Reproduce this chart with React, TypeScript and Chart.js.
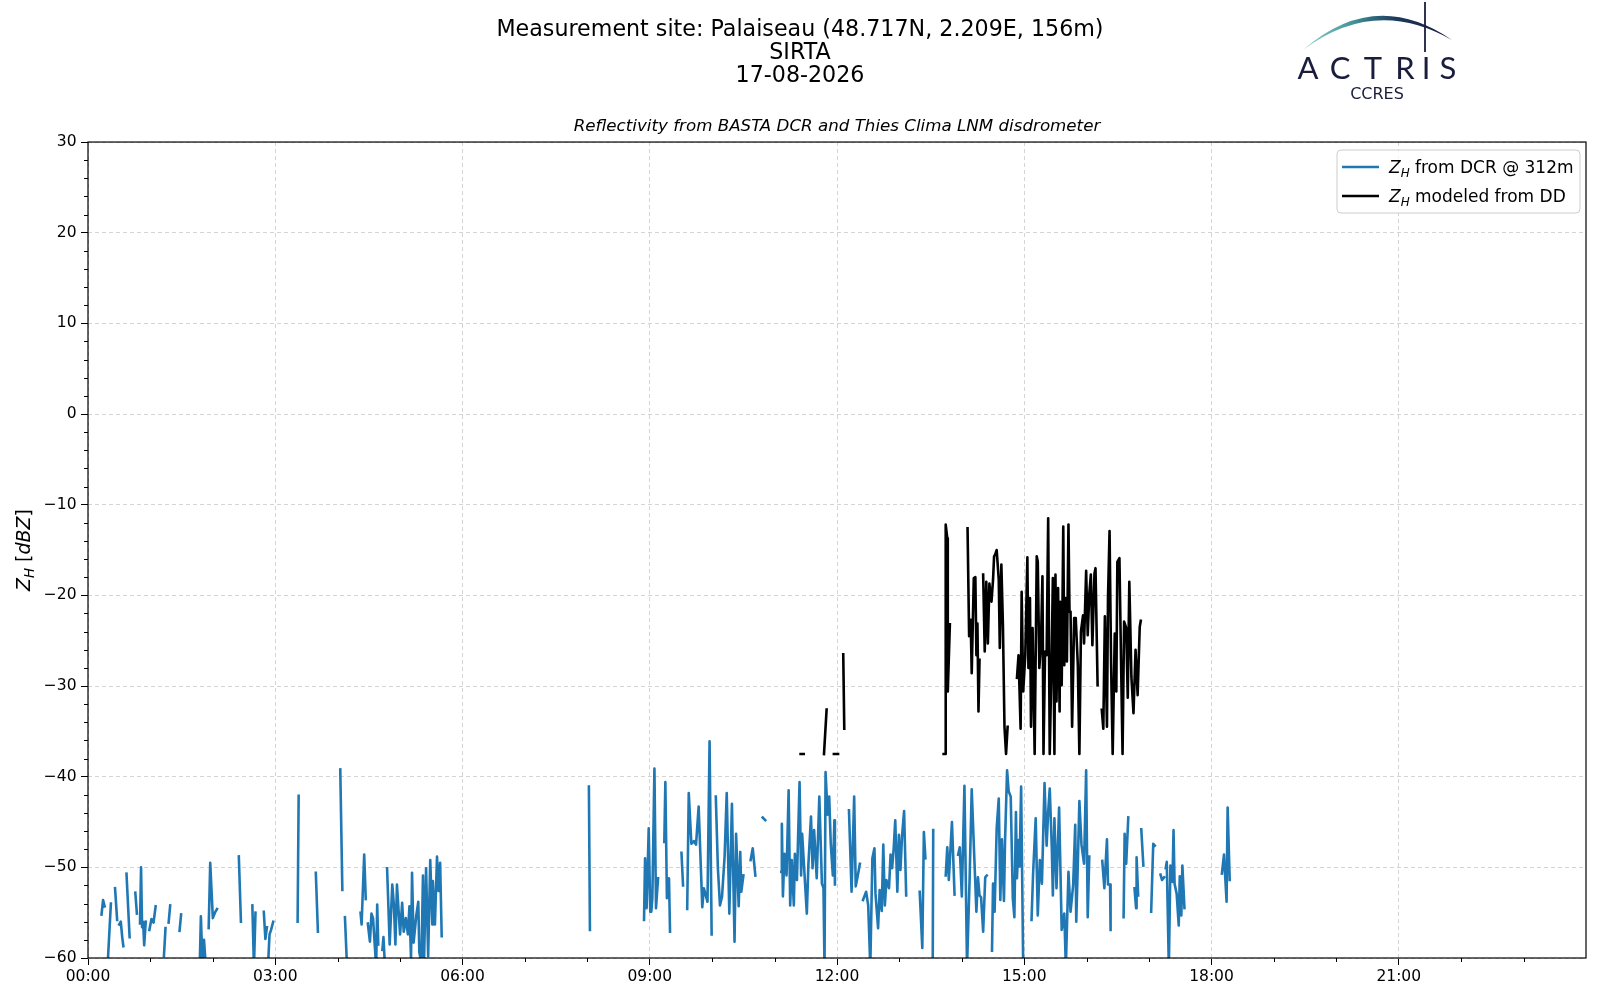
import React, { useEffect, useRef } from 'react';
import { Chart, registerables } from 'chart.js';
Chart.register(...registerables);

const FONT = '"DejaVu Sans", sans-serif';

const titleLines = ['Measurement site: Palaiseau (48.717N, 2.209E, 156m)', 'SIRTA', '17-08-2026'];
const subtitleText = 'Reflectivity from BASTA DCR and Thies Clima LNM disdrometer';

// x axis in minutes after 00:00, y axis in dBZ
const xTickMinutes = [0, 180, 360, 540, 720, 900, 1080, 1260];
const yTickValues = [-60, -50, -40, -30, -20, -10, 0, 10, 20, 30];

// Z_H from DCR @ 312m (null = no data)
const dcrMinutes = [
  13, 14.5, 16, 17, 19, 22, 24, 26, 28, 29, 30, 31.5, 33, 34, 35, 37, 40, 42, 45.5, 47, 48,
  50, 51, 52, 53, 54, 55.5, 57, 59, 61, 63, 65, 68, 73, 74.5, 76, 77.5, 79, 82, 88, 89.5, 95,
  107.5, 108.5, 110, 111.5, 113, 114, 116, 117.5, 120, 122, 124, 130, 145, 147, 150,
  158, 159.5, 161, 165, 169, 170.5, 172, 172.5, 173, 174.5, 176, 178, 185,
  201.5, 202.5, 210, 219, 221, 230, 242.5, 244.5, 246, 247, 249, 255,
  262, 263, 265.5, 267, 268, 269, 271, 272.5, 274, 277, 278, 279, 281, 283, 284, 285.5, 286.5,
  287.5, 288.5, 290, 292.5, 294, 295.5, 297, 298.5, 300, 302, 303.5, 305.5, 307.5, 309, 310.5,
  311.5, 313, 315.5, 317.5, 318.5, 320.5, 322, 323, 325, 327, 329, 331, 331.5, 333.5, 335.5,
  337, 338.5, 340, 400, 481.5, 482.5, 500,
  534.5, 535.5, 537, 539, 540.5, 541.5, 542.5, 544.5, 546, 548, 551, 554, 555, 556.5, 558.5,
  559.5, 565, 570.5, 572, 574, 576, 577.5, 580, 582.5, 584.5, 587, 590.5, 592, 595.5, 597.5,
  599.5, 601.5, 603.5, 605.5, 607.5, 609.5, 612, 614, 616.5, 619, 621.5, 623, 625.5, 627, 628,
  630, 633, 637, 639, 641.5, 645, 648.5, 651, 655,
  666.5, 667, 668, 669.5, 671.5, 673.5, 675, 676.5, 678.5, 679.5, 681.5, 684, 685.5, 686.5,
  691, 692.5, 695, 696.5, 698, 700.5, 703, 705.5, 707, 708, 709, 711, 712.5, 714, 716, 717.5,
  718, 725, 731.5, 734, 736.5, 738, 740, 742, 743.5,
  745, 748, 750, 752, 754, 756, 757, 759.5, 761, 763, 764.5, 766, 767.5, 770, 771.5, 773,
  774.5, 776, 778, 779.5, 781, 782.5, 784.5, 786.5, 793, 799.5, 802, 803.5, 805, 808, 812,
  812.5, 818, 824.5, 826, 827.5, 828.5, 830.5, 833, 834.5,
  836.5, 838, 840, 842.5, 845, 847.5, 849.5, 851.5, 854, 855.5, 857, 858.5, 860.5, 862.5, 864,
  866.5, 869, 870, 871.5, 873.5, 875.5, 877, 878.5, 880.5, 881.5, 883.5, 885, 887, 889, 890.5,
  892, 893, 894.5, 895.5, 897, 899, 903,
  907, 908.5, 911, 913, 915, 917, 919.5, 921.5, 923, 924.5, 926.5, 927.5, 929, 931, 933.5,
  936, 938.5, 940, 942.5, 944.5, 947, 949, 950, 951.5, 953, 955, 957.5, 959.5, 961, 962.5, 969,
  975, 977, 979.5, 980.5, 982.5, 983, 989, 995.5, 996.5, 998, 1000, 1003,
  1006, 1007.5, 1008, 1009.5, 1011, 1012.5, 1014.5, 1018, 1022, 1024, 1025.5, 1028,
  1031, 1032.5, 1034.5, 1035, 1036, 1037, 1039, 1040.5, 1042.5, 1043.5, 1044.5, 1046.5,
  1048.5, 1049.5, 1051, 1052, 1054, 1070, 1090, 1092, 1094.5, 1095.5, 1097.5,
];
const dcrZh = [
  -55.2, -53.6, -54.3, null, -60.5, -54.0, null, -52.3, -55.8, null, -56.3, -56.0, -57.8, -58.7, null, -50.7, -57.7, null, -52.8, -55.1, null,
  -56.2, -50.0, -56.6, -56.0, -58.6, -56.0, null, -56.9, -55.7, -56.1, -54.3, null, -59.8, -56.7, null, -56.1, -54.2, null, -57.0, -55.2, null,
  -60.5, -55.4, -60.5, -58.0, -60.5, null, -56.7, -49.5, -55.6, -55.0, -54.6, null, -48.8, -56.0, null,
  -54.2, -61, -55.0, null, -54.9, -57.9, -56.6, null, -61, -57.4, -56.9, -56.0, null,
  -56.0, -42.1, null, -50.6, -57.1, null, -39.2, -52.5, null, -55.5, -61, null,
  -55.0, -56.3, -48.6, -53.5, null, -56.2, -58.2, -55.1, -55.6, -61, -54.1, -58.5, null, -59.1, -57.7, -61, null,
  -50.1, -53.4, -58.5, -51.9, -54.1, -58.5, -51.9, -54.7, -57.4, -53.9, -57.1, -55.6, -57.4, -54.3, -60.0,
  -50.6, -58.3, -55.4, -53.8, -59.4, -60.5, -50.9, -60.5, -50.1, -59.8, -49.2, -56.3, -51.5, -56.3, -48.8,
  -52.6, -49.5, -57.6, null, -41.1, -56.9, null,
  -55.8, -49.0, -54.5, -45.7, -54.9, -54.9, -53.4, -39.1, -54.5, -51.2, null, -47.2, -40.6, -53.4, -51.2,
  -57.1, null, -48.4, -52.0, null, -54.6, -41.8, -47.4, -47.1, -47.5, -43.3, -54.4, -52.3, -53.8, -36.1,
  -57.4, null, -42.2, -50.1, -54.2, -53.2, -48.7, -41.8, -55.1, -43.0, -58.2, -46.3, -54.3, -48.3, -52.7,
  -50.9, null, -49.2, -47.9, -50.9, null, -44.5, -44.8, null,
  -50.5, -45.2, -53.2, -48.5, -50.9, -41.5, -54.2, -49.2, -54.2, -48.5, -51.4, -40.6, -50.9, -46.3,
  -55.1, -49.7, -44.4, -50.1, -45.9, -51.2, -42.2, -51.8, -52.3, -61, -39.5, -44.2, -42.2, -47.4, -50.9, -44.8,
  -51.9, null, -43.7, -52.7, -42.2, -52.1, -50.9, -49.6, null,
  -53.6, -52.7, -54.2, -61, -49.0, -47.9, -52.9, -56.7, -52.5, -54.8, -47.5, -54.2, -51.4, -52.3, -48.6, -50.1,
  -47.9, -44.8, -52.7, -46.4, -50.3, -46.6, -43.8, -53.1, null, -52.7, -58.9, -46.1, -49.0, null, -61,
  -45.9, null, -50.9, -47.8, -51.4, -49.2, -45.0, -53.0, null,
  -48.6, -47.8, -53.2, -41.0, -61, -51.2, -41.4, -47.5, -54.9, -51.1, -53.1, -53.3, -57.1, -51.1, -50.9,
  null, -59.2, -51.8, -54.9, -45.7, -42.4, -53.6, -46.9, -53.7, -47.2, -39.3, -41.6, -42.2, -53.4, -55.5,
  -43.9, -51.2, -47.0, -49.9, -41.1, -61, null,
  -55.8, -50.7, -44.6, -55.3, -49.2, -51.8, -40.7, -47.6, -43.9, -41.3, -47.9, -53.1, -44.6, -52.3, -43.4,
  -56.9, -55.1, -61, -50.5, -54.9, -52.0, -45.3, -56.0, -49.6, -42.7, -47.5, -49.6, -39.3, -55.5, -48.8, null,
  -49.3, -52.3, -46.9, -51.9, -51.9, -56.9, null, -55.5, -46.3, -49.6, -44.5, null,
  -52.3, -54.5, -48.9, -53.1, null, -45.8, -49.8, null, -54.9, -47.4, -47.6, null,
  -50.8, -51.4, -51.1, null, -50.1, -49.4, -61, -49.8, -51.6, -45.9, -51.8, -52.9,
  -56.4, -51.0, -55.3, -49.8, -54.5, null, -50.7, -48.6, -53.8, -43.4, -51.4,
];

// Z_H modeled from disdrometer (DD) drop size distribution
const ddMinutes = [
  685, 688, 690, 707.5, 710, 712, 717, 721, 723, 726, 727, 730,
  822.5, 824, 824.5, 826, 826.5, 828.5, 835,
  845.5, 847, 848.5, 849.5, 851.5, 853, 854, 855, 856, 857, 858.5,
  860.5, 862, 863.5, 865, 866.5, 868.5, 870, 871, 872, 873.5, 875.5, 876.5, 878, 879.5, 881, 882.5, 884, 888,
  893, 894.5, 896.5, 897.5, 899, 901, 903, 904, 905.5, 906.5, 908, 910, 912, 913, 914.5, 916, 917.5,
  918.5, 920, 921.5, 923, 924.5, 926.5, 927.5, 929, 930, 931, 932.5, 934, 934.5, 936, 937.5, 938.5,
  940, 941, 942.5, 943.5, 944.5, 946, 948, 949.5, 951.5, 953, 954.5, 956.5, 957.5, 959.5, 961, 962.5,
  964, 965.5, 967.5, 968.5, 970.5, 972,
  974.5, 976, 977.5, 979.5, 980.5, 982, 983.5, 985, 987, 988.5, 989.5, 991.5, 993, 994.5, 996, 998,
  999.5, 1001, 1003, 1005, 1007, 1009, 1011, 1012,
];
const ddZh = [
  -37.5, -37.5, null, -37.5, -32.6, null, -37.5, -37.5, null, -26.5, -34.7, null,
  -37.5, -37.5, -12.2, -13.7, -30.6, -23.2, null,
  -12.6, -24.5, -22.7, -28.6, -18.1, -18.0, -26.6, -23.1, -32.8, -27.1, null,
  -17.7, -26.2, -18.5, -25.3, -18.7, -20.7, -18.3, -15.7, -15.5, -15.0, -18.3, -25.8, -16.6, -23.3, -34.5, -37.5, -34.5, null,
  -29.1, -26.6, -34.7, -19.6, -30.6, -26.6, -15.8, -28.0, -20.3, -34.5, -23.6, -37.5, -15.7, -16.3, -28.0, -25.5, -17.9,
  -37.5, -26.2, -26.6, -11.5, -37.5, -25.8, -18.1, -37.5, -17.7, -31.7, -19.2, -32.8, -20.7, -29.9, -12.4, -27.7,
  -20.3, -27.3, -12.2, -21.8, -21.8, -34.5, -22.5, -22.5, -27.7, -37.5, -24.0, -22.2, -25.3, -17.3, -24.4, -19.9,
  -17.7, -25.5, -17.6, -17.0, -29.9, null,
  -32.6, -34.7, -22.3, -34.5, -20.3, -12.9, -27.7, -37.5, -24.2, -30.6, -16.3, -15.9, -26.9, -37.5, -22.9, -23.6,
  -31.3, -18.5, -29.0, -33.0, -26.0, -31.0, -23.5, -22.8,
];

const xMinorMinutes: number[] = [];
for (let m = 60; m < 1440; m += 60) if (m % 180 !== 0) xMinorMinutes.push(m);
const yMinorValues: number[] = [];
for (let v = -58; v < 30; v += 2) if (v % 10 !== 0) yMinorValues.push(v);

const hhmm = (m: number) => {
  const h = Math.floor(m / 60);
  const mm = Math.round(m - h * 60);
  return String(h).padStart(2, '0') + ':' + String(mm).padStart(2, '0');
};
const minusSign = (v: number) => (v < 0 ? '\u2212' + Math.abs(v) : String(v));

type Part = { t: string; it?: boolean; sub?: boolean };

const partFont = (p: Part, size: number) =>
  `${p.it ? 'italic ' : ''}${p.sub ? size * 0.7 : size}px ${FONT}`;

const richWidth = (ctx: CanvasRenderingContext2D, parts: Part[], size: number) =>
  parts.reduce((w, p) => {
    ctx.font = partFont(p, size);
    return w + ctx.measureText(p.t).width;
  }, 0);

const drawRich = (ctx: CanvasRenderingContext2D, parts: Part[], x: number, y: number, size: number) => {
  let cx = x;
  for (const p of parts) {
    ctx.font = partFont(p, size);
    ctx.fillText(p.t, cx, p.sub ? y + size * 0.22 : y);
    cx += ctx.measureText(p.t).width;
  }
};

const legendItems: { color: string; parts: Part[] }[] = [
  { color: '#1f77b4', parts: [{ t: 'Z', it: true }, { t: 'H', it: true, sub: true }, { t: ' from DCR @ 312m' }] },
  { color: '#000000', parts: [{ t: 'Z', it: true }, { t: 'H', it: true, sub: true }, { t: ' modeled from DD' }] },
];
const yLabelParts: Part[] = [{ t: 'Z', it: true }, { t: 'H', it: true, sub: true }, { t: ' [' }, { t: 'dBZ', it: true }, { t: ']' }];

const decorations = {
  id: 'decorations',
  afterDatasetsDraw(chart: Chart) {
    const { ctx, chartArea: a, scales } = chart;
    ctx.save();

    // axes frame
    ctx.strokeStyle = '#000';
    ctx.lineWidth = 1.2;
    ctx.setLineDash([]);
    ctx.strokeRect(a.left, a.top, a.right - a.left, a.bottom - a.top);

    // minor ticks
    ctx.lineWidth = 1;
    ctx.beginPath();
    for (const m of xMinorMinutes) {
      const x = Math.round(scales.x.getPixelForValue(m)) + 0.5;
      ctx.moveTo(x, a.bottom);
      ctx.lineTo(x, a.bottom + 4);
    }
    for (const v of yMinorValues) {
      const y = Math.round(scales.y.getPixelForValue(v)) + 0.5;
      ctx.moveTo(a.left, y);
      ctx.lineTo(a.left - 4, y);
    }
    ctx.stroke();

    // legend
    const lx = a.right - 249;
    const ly = a.top + 8;
    const lw = 243;
    const lh = 63;
    ctx.beginPath();
    ctx.roundRect(lx, ly, lw, lh, 4);
    ctx.fillStyle = 'rgba(255,255,255,0.8)';
    ctx.fill();
    ctx.strokeStyle = '#cccccc';
    ctx.lineWidth = 1;
    ctx.stroke();
    legendItems.forEach((item, i) => {
      const cy = ly + 17 + i * 29;
      ctx.strokeStyle = item.color;
      ctx.lineWidth = 2.6;
      ctx.beginPath();
      ctx.moveTo(lx + 5, cy);
      ctx.lineTo(lx + 42, cy);
      ctx.stroke();
      ctx.fillStyle = '#000';
      ctx.textBaseline = 'alphabetic';
      drawRich(ctx, item.parts, lx + 52, cy + 6, 17);
    });

    // y axis label
    ctx.save();
    ctx.translate(24, (a.top + a.bottom) / 2);
    ctx.rotate(-Math.PI / 2);
    ctx.fillStyle = '#000';
    ctx.textBaseline = 'alphabetic';
    const w = richWidth(ctx, yLabelParts, 19);
    drawRich(ctx, yLabelParts, -w / 2, 6, 19);
    ctx.restore();

    // ACTRIS logo
    const grad = ctx.createLinearGradient(1303, 0, 1452, 0);
    grad.addColorStop(0, '#93d3cb');
    grad.addColorStop(0.35, '#3f8f96');
    grad.addColorStop(0.62, '#1d3a5c');
    grad.addColorStop(1, '#15193a');
    ctx.beginPath();
    ctx.moveTo(1303, 50);
    ctx.quadraticCurveTo(1375, -13, 1452, 40);
    ctx.quadraticCurveTo(1375, -4, 1303, 50);
    ctx.closePath();
    ctx.fillStyle = grad;
    ctx.fill();
    ctx.strokeStyle = '#1a1d3c';
    ctx.lineWidth = 1.8;
    ctx.beginPath();
    ctx.moveTo(1425, 2);
    ctx.lineTo(1425, 52);
    ctx.stroke();
    ctx.fillStyle = '#1a1d3c';
    ctx.textAlign = 'center';
    ctx.font = '400 31px Lato, sans-serif';
    const letters = ['A', 'C', 'T', 'R', 'I', 'S'];
    const letterX = [1308, 1340, 1373, 1405, 1426, 1448];
    letters.forEach((l, i) => ctx.fillText(l, letterX[i], 79));
    ctx.font = `16px ${FONT}`;
    ctx.fillText('CCRES', 1377, 99);

    ctx.restore();
  },
};

const App: React.FC = () => {
  const canvasRef = useRef<HTMLCanvasElement>(null);
  const chartRef = useRef<Chart | null>(null);

  useEffect(() => {
    document.body.style.margin = '0';
    if (!canvasRef.current) return;
    const ctx = canvasRef.current.getContext('2d');
    if (!ctx) return;
    if (chartRef.current) chartRef.current.destroy();

    const tickFont = { family: FONT, size: 15.5 };

    chartRef.current = new Chart(ctx, {
      type: 'line',
      data: {
        datasets: [
          {
            label: 'Z_H from DCR @ 312m',
            data: dcrMinutes.map((m, i) => ({ x: m, y: dcrZh[i] })) as any,
            borderColor: '#1f77b4',
            borderWidth: 2.6,
            borderJoinStyle: 'round',
            borderCapStyle: 'square',
            pointRadius: 0,
            spanGaps: false,
            clip: 0,
          },
          {
            label: 'Z_H modeled from DD',
            data: ddMinutes.map((m, i) => ({ x: m, y: ddZh[i] })) as any,
            borderColor: '#000000',
            borderWidth: 2.6,
            borderJoinStyle: 'round',
            borderCapStyle: 'square',
            pointRadius: 0,
            spanGaps: false,
            clip: 0,
          },
        ],
      },
      options: {
        responsive: false,
        animation: false,
        devicePixelRatio: 1,
        layout: { padding: { left: 0, right: 0, top: 0, bottom: 0 } },
        plugins: {
          legend: { display: false },
          tooltip: { enabled: false },
          title: {
            display: true,
            text: titleLines,
            color: '#000',
            font: { family: FONT, size: 22.2, weight: 'normal', lineHeight: 23 / 22.2 },
            padding: { top: 19, bottom: 29 },
          },
          subtitle: {
            display: true,
            text: subtitleText,
            color: '#000',
            fullSize: false,
            font: { family: FONT, size: 16.7, style: 'italic', lineHeight: 1.2 },
            padding: { top: 0, bottom: 5 },
          },
        },
        scales: {
          x: {
            type: 'linear',
            min: 0,
            max: 1440,
            afterBuildTicks: (axis: any) => {
              axis.ticks = xTickMinutes.map((value) => ({ value }));
            },
            afterFit: (axis: any) => {
              axis.height = 42;
            },
            ticks: {
              callback: (v: any) => hhmm(Number(v)),
              color: '#000',
              font: tickFont,
              padding: 3,
              maxRotation: 0,
              autoSkip: false,
            },
            grid: { color: '#d4d4d4', lineWidth: 1, tickColor: '#000', tickLength: 7, tickWidth: 1 },
            border: { display: false, dash: [4, 3] },
          },
          y: {
            type: 'linear',
            min: -60,
            max: 30,
            afterBuildTicks: (axis: any) => {
              axis.ticks = yTickValues.map((value) => ({ value }));
            },
            afterFit: (axis: any) => {
              axis.width = 88;
            },
            ticks: {
              callback: (v: any) => minusSign(Number(v)),
              color: '#000',
              font: tickFont,
              padding: 4.5,
            },
            grid: { color: '#d4d4d4', lineWidth: 1, tickColor: '#000', tickLength: 7, tickWidth: 1 },
            border: { display: false, dash: [4, 3] },
          },
          // empty right-hand strip so the figure margin matches while the title stays centred on the canvas
          margin: {
            type: 'linear',
            position: 'right',
            afterFit: (axis: any) => {
              axis.width = 14;
            },
            ticks: { display: false },
            grid: { display: false },
            border: { display: false },
          },
        },
      },
      plugins: [decorations],
    });

    return () => {
      if (chartRef.current) {
        chartRef.current.destroy();
        chartRef.current = null;
      }
    };
  }, []);

  return (
    <div style={{ width: 1600, height: 1000, background: '#ffffff' }}>
      <canvas ref={canvasRef} width={1600} height={1000} style={{ display: 'block' }} />
    </div>
  );
};

export default App;
